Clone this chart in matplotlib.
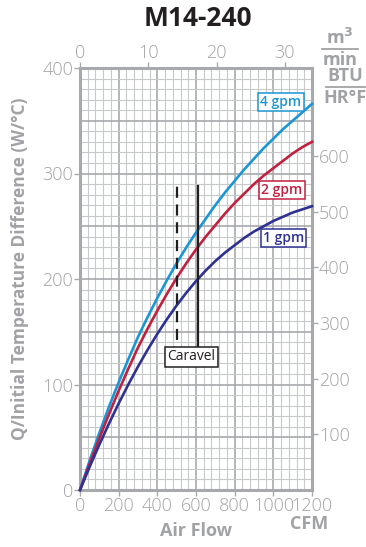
import matplotlib.pyplot as plt
import numpy as np

plt.rcParams['font.family'] = ['Open Sans', 'DejaVu Sans']

# Air flow (CFM) and heat transfer per initial temp difference (W/°C)
cfm = [0, 50, 100, 150, 200, 250, 300, 350, 400, 450, 500, 550, 600, 650, 700,
       750, 800, 850, 900, 950, 1000, 1050, 1100, 1150, 1200]
gpm4 = [0, 28, 54, 79, 102, 124, 145, 164, 182, 199, 215, 230, 244, 257, 270,
        282, 293, 304, 314, 324, 333, 342, 350, 358, 366]
gpm2 = [0, 25, 49, 72, 94, 115, 135, 153, 170, 186, 201, 215, 228, 240, 251,
        262, 272, 281, 290, 298, 305, 312, 319, 325, 330]
gpm1 = [0, 22, 43, 63, 82, 100, 117, 133, 148, 162, 175, 187, 198, 208, 217,
        225, 232, 239, 245, 250, 255, 259, 263, 266, 269]

series = [('4 gpm', gpm4, '#1b95d3', (1039, 368)),
          ('2 gpm', gpm2, '#c1203f', (1044, 284)),
          ('1 gpm', gpm1, '#2e3192', (1054, 239))]

caravel_dashed = 500
caravel_solid = 612

gray = '#a7a9ac'
light = '#c8c9cb'
text_gray = '#a0a2a5'

fig = plt.figure(figsize=(3.66, 5.47), dpi=100)
ax = fig.add_axes([80 / 366, 1 - 490 / 547, 232 / 366, 422 / 547])

ax.set_xlim(0, 1200)
ax.set_ylim(0, 400)

# grid
for v in np.arange(40, 1200, 40):
    major = v % 200 == 0
    ax.axvline(v, color=gray if major else light, lw=1.2 if major else 0.8, zorder=0)
for v in np.arange(10, 400, 10):
    major = v % 50 == 0
    ax.axhline(v, color=gray if major else light, lw=1.2 if major else 0.8, zorder=0)

for name, vals, col, pos in series:
    ax.plot(cfm, vals, color=col, lw=1.9, zorder=3, clip_on=False)
    ax.text(pos[0], pos[1], name, color=col, fontsize=10, fontweight='semibold',
            ha='center', va='center', zorder=5,
            bbox=dict(boxstyle='square,pad=0.15', fc='white', ec=col, lw=1.1))

ax.plot([caravel_dashed, caravel_dashed], [142, 288], color='#231f20', lw=1.6,
        ls=(0, (5, 3)), zorder=4)
ax.plot([caravel_solid, caravel_solid], [136, 288], color='#231f20', lw=1.6, zorder=4)
ax.text(575, 126.5, 'Caravel', color='#231f20', fontsize=10, ha='center', va='center',
        zorder=5, bbox=dict(boxstyle='square,pad=0.18', fc='white', ec='#231f20', lw=1.1))

for s in ax.spines.values():
    s.set_color(gray)
    s.set_linewidth(2.2)

ax.set_xticks([0, 200, 400, 600, 800, 1000, 1200])
ax.set_yticks([0, 100, 200, 300, 400])
ax.tick_params(which='major', length=4, width=1, color=gray, labelcolor=text_gray,
               labelsize=13, pad=1)
for lab in ax.get_xticklabels() + ax.get_yticklabels():
    lab.set_fontweight('light')

top = ax.secondary_xaxis('top', functions=(lambda x: x * 0.0283168, lambda m: m / 0.0283168))
top.set_xticks([0, 10, 20, 30])
top.tick_params(length=4, width=1, color=gray, labelcolor=text_gray, labelsize=13, pad=0)
top.spines['top'].set_visible(False)
for lab in top.get_xticklabels():
    lab.set_fontweight('light')

right = ax.secondary_yaxis('right', functions=(lambda w: w * 1.8956, lambda b: b / 1.8956))
right.set_yticks([100, 200, 300, 400, 500, 600])
right.tick_params(length=4, width=1, color=gray, labelcolor=text_gray, labelsize=13, pad=1)
right.spines['right'].set_visible(False)
for lab in right.get_yticklabels():
    lab.set_fontweight('light')

fig.text(20 / 366, 1 - 269 / 547, 'Q/Initial Temperature Difference (W/°C)', color=text_gray,
         fontsize=12.5, fontweight='bold', rotation=90, ha='center', va='center')
fig.text(196 / 366, 1 - 531 / 547, 'Air Flow', color=text_gray, fontsize=13,
         fontweight='bold', ha='center', va='center')
fig.text(309 / 366, 1 - 524 / 547, 'CFM', color=text_gray, fontsize=13,
         fontweight='bold', ha='center', va='center')
fig.text(345 / 366, 1 - 76 / 547, 'BTU', color=text_gray, fontsize=13,
         fontweight='bold', ha='center', va='center')
fig.text(345 / 366, 1 - 98 / 547, 'HR°F', color=text_gray, fontsize=13,
         fontweight='bold', ha='center', va='center')
fig.add_artist(plt.Line2D([326 / 366, 365 / 366], [1 - 87 / 547] * 2, color=text_gray, lw=1.3))
fig.text(340 / 366, 1 - 38 / 547, 'm$^\\mathbf{3}$', color=text_gray, fontsize=13,
         fontweight='bold', ha='center', va='center')
fig.text(340 / 366, 1 - 60 / 547, 'min', color=text_gray, fontsize=13,
         fontweight='bold', ha='center', va='center')
fig.add_artist(plt.Line2D([322 / 366, 358 / 366], [1 - 49 / 547] * 2, color=text_gray, lw=1.3))

fig.text(198 / 366, 1 - 18 / 547, 'M14-240', color='#231f20', fontsize=19,
         fontweight='bold', ha='center', va='center')

fig.savefig('out.png', dpi=100)
